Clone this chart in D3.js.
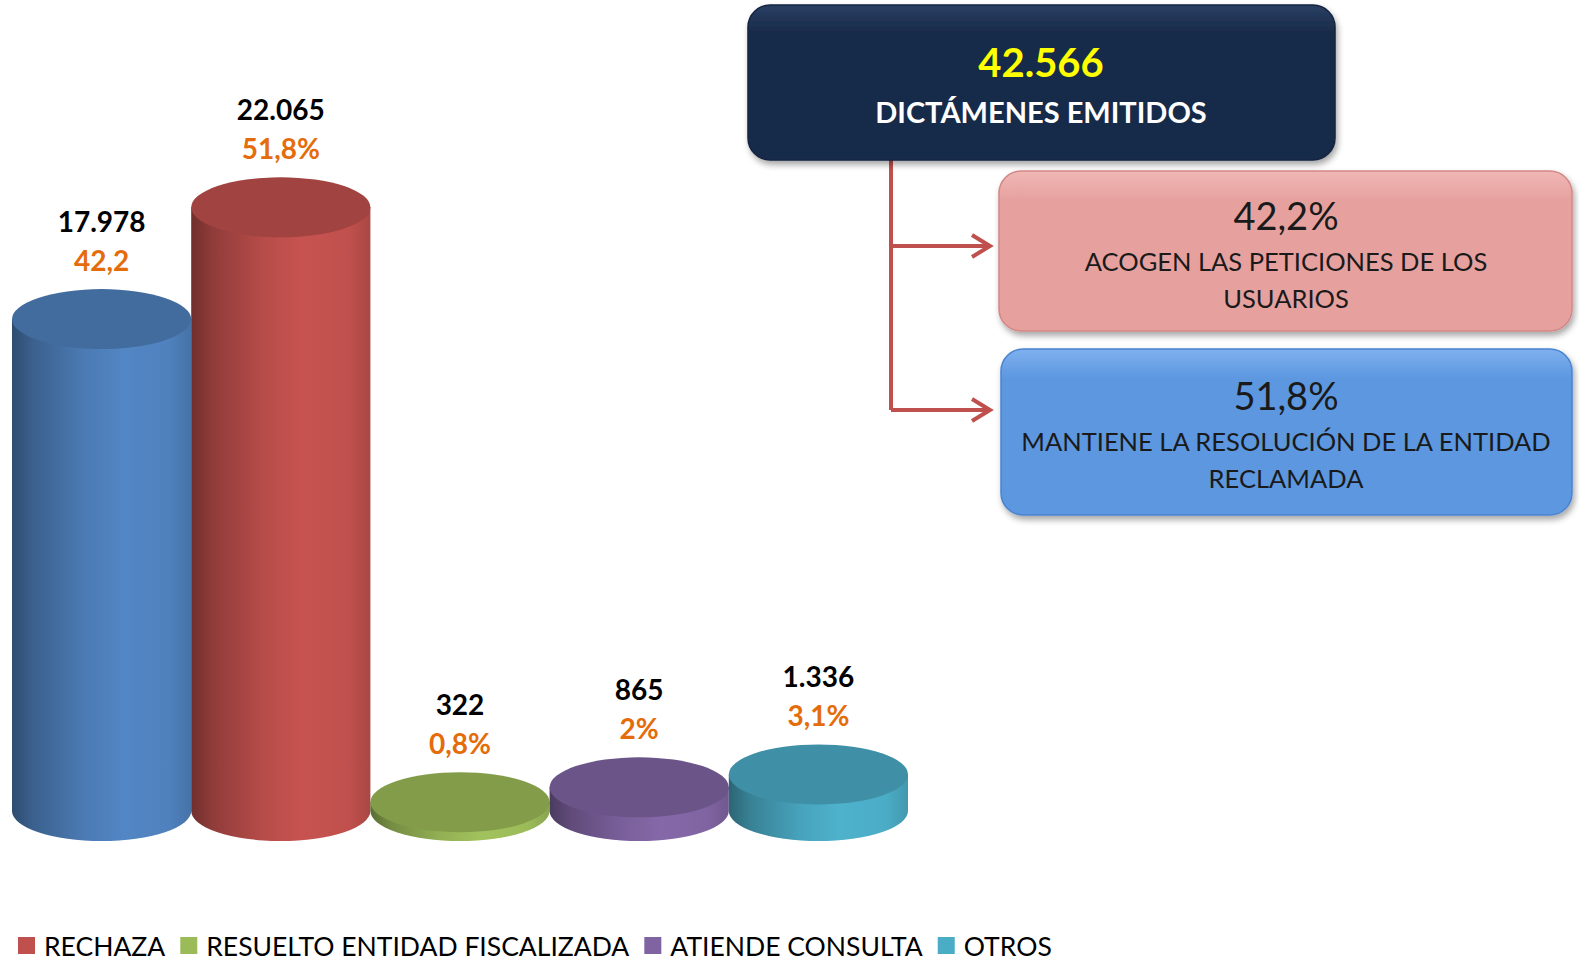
<!DOCTYPE html>
<html>
<head>
<meta charset="utf-8">
<script src="https://cdn.jsdelivr.net/npm/d3@7"></script>
<style>
  body { margin: 0; background: #fff; }
  svg { display: block; font-family: Lato, "Open Sans", sans-serif; }
</style>
</head>
<body>
<svg id="chart" width="1579" height="961"></svg>
<script>
// data
const categories = ["ACOGE", "RECHAZA", "RESUELTO ENTIDAD FISCALIZADA", "ATIENDE CONSULTA", "OTROS"];
const values = [17978, 22065, 322, 865, 1336];
const percentLabels = ["42,2", "51,8%", "0,8%", "2%", "3,1%"];
const colors = ["#4f81bd", "#c0504d", "#9bbb59", "#8064a2", "#4bacc6"];
const legendItems = categories.slice(1); // the blue series has no legend entry in the original
const totalLabel = "42.566";
const totalCaption = "DICTÁMENES EMITIDOS";
const boxPercents = ["42,2%", "51,8%"];
const boxCaptions = [
  ["ACOGEN LAS PETICIONES DE LOS", "USUARIOS"],
  ["MANTIENE LA RESOLUCIÓN DE LA ENTIDAD", "RECLAMADA"]
];

const svg = d3.select("#chart");
const defs = svg.append("defs");
const fmt = d3.formatLocale({ decimal: ",", thousands: ".", grouping: [3], currency: ["", ""] }).format(",d");

const baseY = 811;
const ry = 30;
const x = d3.scaleBand().domain(categories).range([12, 908]).padding(0);
const y = d3.scaleLinear().domain([0, 25000]).range([baseY, 127]);
const rx = x.bandwidth() / 2;

// horizontal shading for the cylinder sides
colors.forEach((c, i) => {
  const base = d3.color(c);
  const g = defs.append("linearGradient").attr("id", `side${i}`).attr("x1", 0).attr("x2", 1).attr("y1", 0).attr("y2", 0);
  [[0, base.darker(1.5)], [0.12, base.darker(0.8)], [0.4, base.darker(0.15)], [0.62, base.brighter(0.1)],
   [0.88, base], [1, base.darker(0.35)]]
    .forEach(([o, col]) => g.append("stop").attr("offset", o).attr("stop-color", col));
});

const shadow = defs.append("filter").attr("id", "shadow").attr("x", -0.1).attr("y", -0.1).attr("width", 1.2).attr("height", 1.3);
shadow.append("feDropShadow").attr("dx", 2).attr("dy", 4).attr("stdDeviation", 3).attr("flood-color", "#000").attr("flood-opacity", 0.35);

const bars = svg.append("g").selectAll("g")
  .data(categories.map((c, i) => ({ c, i, v: values[i] })))
  .join("g");

bars.append("path")
  .attr("fill", d => `url(#side${d.i})`)
  .attr("d", d => {
    const cx = x(d.c) + rx, top = y(d.v);
    return `M${cx - rx},${top} L${cx - rx},${baseY} A${rx},${ry} 0 0 0 ${cx + rx},${baseY} L${cx + rx},${top} Z`;
  });

bars.append("ellipse")
  .attr("cx", d => x(d.c) + rx)
  .attr("cy", d => y(d.v))
  .attr("rx", rx)
  .attr("ry", ry)
  .attr("fill", d => d3.color(colors[d.i]).darker(0.5));

bars.append("text")
  .attr("x", d => x(d.c) + rx)
  .attr("y", d => y(d.v) - ry - 57)
  .attr("text-anchor", "middle")
  .attr("font-size", 28)
  .attr("font-weight", 700)
  .attr("fill", "#000")
  .text(d => fmt(d.v));

bars.append("text")
  .attr("x", d => x(d.c) + rx)
  .attr("y", d => y(d.v) - ry - 18)
  .attr("text-anchor", "middle")
  .attr("font-size", 28)
  .attr("font-weight", 700)
  .attr("fill", "#e46c0a")
  .text(d => percentLabels[d.i]);

// legend
const legend = svg.append("g").attr("transform", "translate(18, 937)");
let lx = 0;
legendItems.forEach(name => {
  const i = categories.indexOf(name);
  const item = legend.append("g").attr("transform", `translate(${lx},0)`);
  item.append("rect").attr("width", 17).attr("height", 17).attr("fill", colors[i]);
  const t = item.append("text").attr("x", 26).attr("y", 19).attr("font-size", 26.5).attr("fill", "#000").text(name);
  lx += 26 + t.node().getComputedTextLength() + 15;
});

// summary boxes
function box(id, x0, y0, w, h, top, bottom, stroke) {
  const g = defs.append("linearGradient").attr("id", id).attr("x1", 0).attr("x2", 0).attr("y1", 0).attr("y2", 1);
  g.append("stop").attr("offset", 0).attr("stop-color", top);
  g.append("stop").attr("offset", 0.18).attr("stop-color", bottom);
  g.append("stop").attr("offset", 1).attr("stop-color", bottom);
  svg.append("rect")
    .attr("x", x0).attr("y", y0).attr("width", w).attr("height", h).attr("rx", 22)
    .attr("fill", `url(#${id})`).attr("stroke", stroke).attr("stroke-width", 1.5)
    .attr("filter", "url(#shadow)");
}

// connector with arrows
const red = "#c0504d";
const connX = 891;
const conn = svg.append("g").attr("stroke", red).attr("stroke-width", 4).attr("fill", "none");
conn.append("path").attr("d", `M${connX},160 L${connX},410`);
[246, 410].forEach(ay => {
  conn.append("path").attr("d", `M${connX},${ay} L990,${ay}`);
  conn.append("path").attr("d", `M972,${ay - 11} L990,${ay} L972,${ay + 11}`).attr("stroke-linejoin", "miter");
});

box("gTotal", 748, 5, 587, 155, "#2a3f63", "#182b48", "#142440");
box("gPink", 999, 171, 573, 160, "#f0b7b5", "#e6a19f", "#d28886");
box("gBlue", 1001, 349, 571, 166, "#7fb0ee", "#5c97e0", "#4a84cf");

svg.append("text").attr("x", 1041).attr("y", 77).attr("text-anchor", "middle")
  .attr("font-size", 40).attr("font-weight", 700).attr("fill", "#ffff00").text(totalLabel);
svg.append("text").attr("x", 1041).attr("y", 123).attr("text-anchor", "middle")
  .attr("font-size", 29).attr("font-weight", 700).attr("fill", "#fff").text(totalCaption);

const boxTops = [230, 410];
boxPercents.forEach((p, k) => {
  const cx = 1286;
  svg.append("text").attr("x", cx).attr("y", boxTops[k]).attr("text-anchor", "middle")
    .attr("font-size", 38).attr("fill", "#1a1a1a").text(p);
  boxCaptions[k].forEach((line, j) => {
    svg.append("text").attr("x", cx).attr("y", boxTops[k] + 41 + j * 37).attr("text-anchor", "middle")
      .attr("font-size", 25.5).attr("fill", "#1a1a1a").text(line);
  });
});
</script>
</body>
</html>
